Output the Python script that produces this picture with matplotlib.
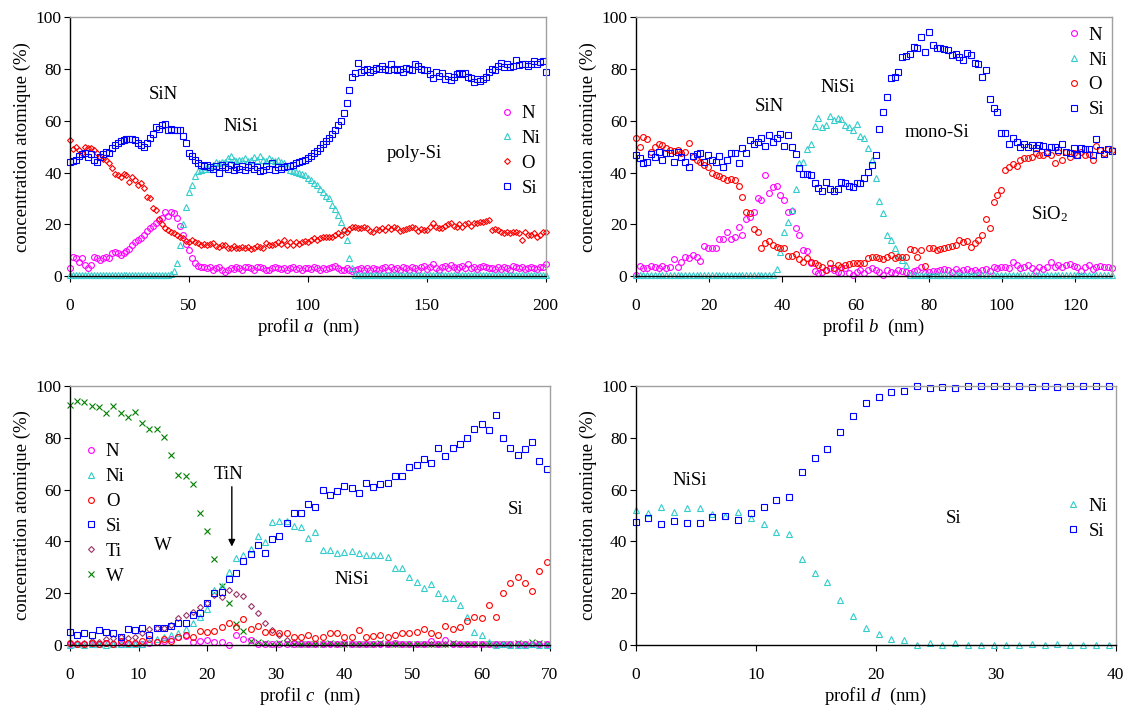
import numpy as np
import matplotlib
matplotlib.use('Agg')
import matplotlib.pyplot as plt
from matplotlib.lines import Line2D

plt.rcParams['font.family'] = ['Liberation Serif', 'DejaVu Serif']
plt.rcParams['mathtext.fontset'] = 'custom'
plt.rcParams['mathtext.rm'] = 'Liberation Serif'
plt.rcParams['mathtext.it'] = 'Liberation Serif:italic'

# ---------------- Panel a : profil a (step 1.25 nm) ----------------
step_a = 1.25
N_a = [3, 7.5, 6.8, 5.5, 6.8, 4.2, 3, 4.2,
       7.5, 6.8, 6.2, 6.8, 7.5, 7, 8.8, 9.4,
       8.8, 8.1, 8.8, 9.5, 10.5, 12, 13.3, 13.9,
       14.5, 16, 17.5, 18.5, 19.5, 20.5, 21.6, 22.3,
       24.8, 23, 24.8, 24.5, 22.5, 19.5, 16, 12.5,
       10, 6.8, 5, 3.8, 3.6, 3.6, 3, 3.3,
       2.3, 3, 3.6, 2.5, 1.7, 2.5, 3, 2.8,
       3.6, 3, 2.5, 3.6, 3.3, 3, 2.5, 3.6,
       3.6, 3, 2.5, 2.3, 3, 3.3, 3, 2.8,
       3, 2.5, 3, 3.3, 2.8, 3, 2.5, 3,
       3, 2.8, 3.3, 3, 2.5, 3, 2.8, 3,
       3.5, 3.8, 3, 2.5, 2.3, 3, 2.2, 2,
       2.5, 2.8, 3, 2.5, 3, 2.3, 3, 2.6,
       2.5, 3, 3.3, 2.5, 3.5, 2.8, 3, 2.5,
       3.5, 3, 2.3, 3.6, 3, 2.5, 3.3, 3.8,
       2.8, 3.3, 4.5, 3, 2.5, 3.5, 3.8, 3,
       4.2, 3.3, 2.8, 3.5, 3.8, 3, 4.6, 3.2,
       3.5, 2.8, 3.3, 4, 3.5, 3, 3.2, 2.8,
       3.3, 2.8, 3.5, 3, 2.5, 3.8, 3.3, 3,
       3.5, 2.8, 3.2, 3.5, 3, 2.8, 3.6, 3.3,
       4.5]
Ni_a = [0.3, 0.2, 0.4, 0.3, 0.2, 0.3, 0.4, 0.2,
        0.3, 0.2, 0.3, 0.4, 0.2, 0.3, 0.2, 0.3,
        0.4, 0.3, 0.2, 0.3, 0.3, 0.2, 0.4, 0.3,
        0.2, 0.3, 0.3, 0.4, 0.2, 0.3, 0.4, 0.3,
        0.4, 0.5, 0.8, 1.8, 5, 12, 20, 26.5,
        32.5, 35, 38.5, 40.5, 41, 41.5, 42, 41.5,
        43, 44, 43.5, 44, 44, 45.5, 46.5, 45,
        44.5, 45, 44.8, 45.5, 44.5, 45, 46, 45,
        46.5, 45, 44.5, 45.5, 44.8, 44.5, 44.8, 44,
        43.5, 42.5, 41, 40.5, 40.3, 39.8, 39.6, 39,
        38, 37, 36, 35, 33.5, 32.5, 31, 30,
        27.4, 26, 23.5, 21, 18, 14, 7, 3,
        0.4, 0.3, 0.5, 0.3, 0.4, 0.3, 0.5, 0.4,
        0.3, 0.4, 0.3, 0.5, 0.3, 0.4, 0.3, 0.4,
        0.5, 0.3, 0.4, 0.3, 0.4, 0.5, 0.3, 0.4,
        0.3, 0.4, 0.5, 0.3, 0.4, 0.3, 0.4, 0.3,
        0.5, 0.4, 0.3, 0.4, 0.3, 0.5, 0.4, 0.3,
        0.4, 0.3, 0.5, 0.4, 0.3, 0.4, 0.3, 0.5,
        0.3, 0.4, 0.3, 0.5, 0.4, 0.3, 0.4, 0.3,
        0.4, 0.5, 0.3, 0.4, 0.3, 0.4, 0.5, 0.3,
        0.4]
O_a = [52.5, 49, 49.9, 48.6, 47.4, 49.9, 49.3, 49.3,
       48.6, 47.4, 46, 45.4, 44.8, 43.5, 41.6, 39.6,
       39, 38.4, 39.6, 39, 36.4, 38.4, 37, 35.1,
       35.8, 34, 30.6, 30, 26.1, 25.5, 22, 20,
       18.4, 17.8, 17.1, 16.5, 15.8, 15, 14.5, 13.5,
       13.3, 13.9, 13, 12.6, 12, 12.2, 12, 12.3,
       12.6, 11.5, 11.3, 12, 12, 11, 10.7, 11.5,
       10.7, 11, 11.3, 11, 11.3, 10.5, 10.7, 11.5,
       11.3, 11, 12.6, 12, 12, 12.5, 13.3, 12.5,
       13.9, 12, 13, 12, 13, 12.5, 13.3, 13.5,
       13.3, 14, 14.5, 14, 14.5, 15, 15.2, 15,
       15.2, 15.8, 16.5, 16, 17.8, 17, 18, 19,
       19, 18.5, 18.4, 19, 18.4, 17.5, 17.1, 18,
       17.8, 18.5, 17.8, 19, 18, 19, 18.5, 17.5,
       17.8, 18, 18.4, 19, 18.4, 17.5, 18, 17.8,
       17.8, 19, 20.3, 19, 18.4, 18.4, 19.5, 20,
       20.3, 19.5, 19, 20, 19, 20, 20.3, 19.5,
       20.3, 20.5, 21, 21, 21.3, 21.6, 17.8, 18,
       17.8, 17, 16.5, 17, 16.5, 17, 17.1, 16.5,
       13.9, 17.1, 16, 15.8, 16.5, 15.2, 16, 17.1,
       17]
Si_a = [44, 44.5, 45, 46.5, 47, 47.5, 46, 47,
        45, 44, 46, 47, 48, 47.5, 49.5, 50.5,
        51.5, 52, 52.5, 53, 53, 52.8, 52.5, 51.5,
        50.5, 50, 51.5, 53.5, 55, 57.5, 57, 58.3,
        58.7, 56.5, 57, 56.4, 56.4, 56.5, 54, 51.5,
        47.5, 46.5, 45, 43.5, 43, 42.5, 43, 42,
        41.5, 42.5, 39.8, 43, 42, 41.5, 43, 41,
        42, 41.5, 42.5, 41, 42, 43, 41.5, 42,
        40.5, 41, 42.5, 41.5, 43.5, 41, 42, 41.5,
        42, 42.5, 42.5, 43, 43.5, 44, 44.5, 45,
        45.5, 46.5, 47.5, 48.5, 49.5, 51, 52, 53.5,
        55, 56.5, 58.5, 60, 63, 67, 72, 77,
        78.5, 82.5, 79, 79.5, 80, 79, 79.5, 80.5,
        80, 81, 80, 79.5, 82, 80, 79.5, 80,
        79, 80.5, 80, 79.5, 82, 81, 80, 79.5,
        79.5, 78, 76.5, 79, 77.5, 78.5, 76, 77.5,
        75.7, 77, 78, 78.5, 78, 78.5, 77, 76.5,
        75, 76, 75.5, 76.3, 77, 79, 80, 79.5,
        81, 82.5, 80.8, 82, 80.8, 81, 83.4, 81.5,
        82, 81.9, 81, 82, 83, 82, 82.8, 83,
        79]

# ---------------- Panel b : profil b (step 1.04 nm) ----------------
step_b = 1.04
N_b = [0.5, 3.9, 3, 3.2, 3.9, 3.6, 3.2, 3.9, 3, 3.6,
       6.4, 3.6, 5.5, 7.5, 6.8, 8.1, 7.5, 5.9, 11.6, 10.7,
       10.7, 10.7, 14.2, 14.2, 17.1, 14.2, 14.9, 19, 15.8, 21.9,
       22.9, 24.8, 30, 29.3, 39, 32.2, 34.5, 34.7, 31.3, 29.3,
       24.8, 25.2, 18.4, 15.8, 10, 9.8, 5, 2, 1, 1.7,
       2.5, 3, 2.3, 1.5, 1, 3, 1.3, 0.5, 1.7, 2.3,
       1.3, 2.5, 3, 2.3, 1.7, 0.3, 2.3, 1.5, 1.3, 2.3,
       2, 1.5, 1, 2, 2.5, 3.6, 1.3, 1.7, 2, 2,
       2.3, 2.6, 2.2, 1.7, 2.6, 1.7, 2.2, 2.6, 2, 2.3,
       1.7, 2.2, 2.6, 2, 3.6, 3, 3.6, 3.3, 3, 5.5,
       4.2, 3, 3.6, 4.2, 3, 2, 3.6, 2.6, 3.6, 5.5,
       3.6, 4.2, 3.6, 4.2, 4.6, 3.8, 3.6, 2, 3.6, 4.2,
       2.6, 3.5, 3.9, 3.6, 3.3, 3.2]
Ni_b = [0.2, 0.3, 0.2, 0.3, 0.2, 0.2, 0.3, 0.2, 0.3, 0.2,
        0.3, 0.2, 0.2, 0.3, 0.2, 0.3, 0.2, 0.2, 0.3, 0.2,
        0.3, 0.2, 0.3, 0.2, 0.2, 0.3, 0.2, 0.3, 0.2, 0.2,
        0.3, 0.2, 0.3, 0.2, 0.2, 0.3, 0.2,
        2.6, 9.2, 17, 21, 25.5, 33.8, 43.5, 44.1, 48.9, 51.2,
        57.9, 60.9, 57.7, 58.3, 61.8, 60.2, 60.9, 60.5, 58.3, 57.7,
        56.5, 58.7, 54.2, 53.5, 49.5, 45, 38, 29, 24.5, 16,
        13.9, 10.8, 8, 6, 4.2,
        0.3, 0.2, 0.3, 0.2, 0.3, 0.2, 0.2, 0.3, 0.2, 0.3,
        0.2, 0.3, 0.2, 0.2, 0.3, 0.2, 0.3, 0.2, 0.3, 0.2,
        0.2, 0.3, 0.2, 0.3, 0.2, 0.3, 0.2, 0.2, 0.3, 0.2,
        0.3, 0.2, 0.3, 0.2, 0.2, 0.3, 0.2, 0.3, 0.2, 0.3,
        0.2, 0.2, 0.3, 0.2, 0.3, 0.2, 0.3, 0.2, 0.2, 0.3,
        0.2, 0.3, 0.2, 0.3]
O_b = [53.2, 49.9, 53.8, 52.8, 48, 49.9, 51, 50.6, 49.3, 48.6,
       48.4, 48.6, 47.4, 48, 51.5, 46, 44.8, 44.1, 43, 42.2,
       40, 39, 38.5, 37.7, 37.3, 37.5, 37, 34.7, 30.4, 24.8,
       24.5, 18, 17.1, 10.7, 12.6, 13.6, 12, 11.3, 10.7, 10.7,
       7.7, 7.7, 8.5, 6.4, 5.5, 6.8, 5.5, 4.9, 4.2, 3.6,
       2.3, 4.9, 3, 4.2, 3.6, 4.2, 4.5, 4.9, 4.9, 5,
       5.1, 6.8, 7.5, 7.5, 6.8, 6.4, 7.5, 8.1, 6.8, 7.5,
       7.2, 7.2, 10.3, 10, 7.5, 10, 3.9, 10.7, 10.7, 10,
       10.3, 10.7, 11.3, 11.5, 12, 13.9, 13.3, 13.6, 11.1, 12.6,
       13.9, 15.8, 21.9, 18.4, 28.7, 31.3, 33.2, 40.9, 42.2, 43.2,
       42.5, 45, 45.8, 45.8, 46, 47.4, 46.7, 46.7, 47.4, 46.7,
       43.8, 48, 45, 48, 46, 47.4, 46.7, 48, 46.7, 47,
       45, 50.2, 48.6, 47.5, 48.9, 48.6]
Si_b = [46.7, 45.8, 43.5, 44.1, 47.1, 46, 48, 44.8, 47.4, 47.6,
        44.1, 48, 46, 44.1, 42, 46.3, 47.1, 47.4, 44.1, 46.7,
        44.8, 44.1, 46.3, 42.2, 45, 47.6, 47.4, 43.5, 49.3, 47.4,
        52.5, 51, 51.9, 53.5, 50.2, 54.4, 51.9, 53.2, 54.8, 50.4,
        54.4, 49.7, 47.1, 41.6, 39.4, 39.4, 39, 35.8, 34.2, 32.9,
        36.4, 33.8, 32.9, 33.8, 36.4, 35.8, 34.7,
        34.5, 35.8, 35.8, 37.7, 40.3, 42.9, 46.7, 57, 63.4, 69,
        76.7, 77, 78.9, 84.7, 84.9, 85.7, 88.5, 88.3, 92.4, 86.4,
        94.3, 89.2, 88.3, 88.3, 87.9, 87.3, 85.3, 86, 84.7, 83.4,
        86.2, 85.3, 82.4, 81.9, 77, 79.5, 68.6, 65.1, 63.4, 55.3,
        55.3, 51.2, 53.5, 51.9, 49.9, 51, 49.9, 50.6, 49.3, 50.6,
        50.2, 48, 49.9, 49.9, 48.6, 51, 48, 47.6, 49.3, 46.7,
        49.3, 48.9, 48.9, 46.7, 52.8, 48.6, 47.1, 48.9, 48.4]

# ---------------- Panel c : profil c (step 1.053 nm) ----------------
step_c = 1.053
N_c = [0.4, 0.2, 0.5, 0.3, 0.2, 0.6, 0.3, 0.2, 0.5, 0.3,
       0.5, 0.8, 1, 1.5, 2.5, 3, 3.5, 1.3, 1.5, 2,
       1.3, 1, 0, 3.9, 2.2, 2, 0.4, 0.3, 0.5, 0.2,
       0.3, 0.5, 0.2, 0.4, 0.3, 0.5, 0.2, 0.3, 0.6, 0.4,
       0.3, 0.2, 0.5, 0.4, 0.3, 0.6, 0.2, 0.5, 0.3, 0.4,
       1.7, 0.3, 1.9, 0.4, 0.2, 0.5, 0.3, 0.2, 0.4, 0.3,
       0.2, 0.5, 0.3, 0.2, 0.4, 0.3, 0.2]
Ni_c = [0, 0.2, 0, 0.3, 0.2, 0, 0.3, 0.5, 0.2, 0.3,
        0.5, 1, 2.2, 3, 4, 4.5, 6, 8.6, 10.9, 13.8,
        21.2, 22.8, 28.3, 33.5, 34.7, 36.9, 42.1, 39.9, 47.6, 48,
        48, 45.9, 45.4, 41.2, 43.8, 36.7, 36.7, 35.6, 36, 36.3,
        35.6, 34.7, 34.7, 34.7, 33.8, 29.6, 29.6, 26.1, 24.5, 21.9,
        23.6, 19.9, 18, 18, 15.4, 10.9, 5.1, 3.9, 1.3, 0,
        0.2, 0, 0.1, 0, 0.2, 0, 0]
O_c = [0.6, 0.4, 0.4, 0.9, 0.5, 0.6, 0.4, 1.7, 0.9, 0.6,
       1.7, 2.2, 1.3, 2.2, 1.7, 3.2, 3.9, 3.2, 5.5, 5.1,
       5.5, 7.1, 8.4, 6.8, 9.9, 6, 7.3, 5.1, 5.1, 4.5,
       4.5, 3.2, 3, 3.9, 2.6, 3.2, 4.5, 4.8, 3, 3.2,
       5.8, 3.2, 3.5, 3.9, 3.2, 3.9, 4.5, 4.8, 5.1, 6,
       4.8, 3.9, 7.3, 6, 7.1, 9.4, 10.9, 10.3, 15.4, 10.9,
       20.2, 24.1, 26.4, 23.8, 21, 28.7, 32.2]
Si_c = [5.1, 3.9, 4.8, 3.9, 5.8, 5.1, 4.8, 3.2, 6, 5.8,
        6.4, 3.9, 6.4, 6.4, 7.3, 8.4, 8.4, 11.6, 12.2, 16.1,
        20.2, 20.6, 25.4, 27.9, 32.6, 35.1, 38.6, 35.6, 40.8, 42.2,
        47, 50.8, 50.8, 54.3, 53.2, 59.8, 57.9, 59.6, 61.4, 60.5,
        58.8, 62.4, 61.1, 62.2, 62.7, 65.3, 65.3, 68.9, 69.5, 71.7,
        70.4, 75.9, 73, 75.9, 77.6, 79.8, 83.3, 85.2, 83, 88.8,
        79.8, 75.9, 73.4, 75.5, 78.5, 71.2, 67.8]
Ti_c = [0.6, 0.9, 0.9, 1.7, 1.3, 2.2, 2.6, 3.2, 2.6, 3.2,
        4.5, 6, 6.4, 6.4, 7.7, 10.3, 11.6, 12.9, 14.8, 16.1,
        19.3, 18.7, 21.2, 19.7, 18.9, 15.1, 12.5, 8.6, 5.8, 3.9,
        1.9, 1.3, 0.8, 0.5, 0.4, 0.3, 0.2, 0.3, 0.2, 0.3,
        0.2, 0.3, 0.2, 0.3, 0.2, 0.2, 0.3, 0.2, 0.3, 0.2,
        0.3, 0.2, 0.2, 0.3, 0.2, 0.3, 0.2, 0.3, 0.2, 0.2,
        0.3, 0.2, 0.3, 0.2, 0.3, 0.2, 0.2]
W_c = [92.7, 94.3, 93.7, 92.3, 92, 89.7, 92.3, 89.7, 88.2, 90.1,
       85.6, 83.3, 83.3, 80.4, 73.4, 65.6, 65.3, 62.2, 51.1, 44.1,
       33.2, 22.8, 16.3, 8.1, 5.5, 1.7, 1.3, 0.6, 0.4, 0.9,
       0.6, 0.4, 0.3, 0.5, 0.2, 0.4, 0.6, 0.3, 0.5, 0.2,
       0.4, 0.3, 0.5, 0.6, 0.2, 0.4, 0.3, 0.5, 0.4, 0.3,
       0.5, 0.2, 0.4, 0.6, 0.3, 0.5, 0.2, 0.4, 0.3, 0.5,
       0.4, 0.3, 0.6, 0.5, 1.2, 0.8, 0.5]

# ---------------- Panel d : profil d (step 1.065 nm) ----------------
step_d = 1.065
Ni_d = [52.1, 50.8, 53.2, 51.5, 52.8, 52.8, 50.6, 49.8, 51.5, 48.9,
        46.7, 43.8, 42.9, 33.1, 27.7, 24.3, 17.4, 11.2, 6.4, 4.2,
        2.2, 1.9, 0, 0.6, 0, 0.9, 0, 0, 0, 0,
        0, 0.4, 0, 0.4, 0, 0, 0, 0]
Si_d = [47.4, 48.9, 46.7, 48, 47.2, 47.2, 49.5, 49.8, 48.3, 50.8,
        53.2, 56, 57, 66.7, 72.1, 75.5, 82.2, 88.4, 93.6, 95.6,
        97.6, 98.1, 100, 99.1, 99.7, 99.1, 100, 100, 100, 100,
        100, 99.5, 100, 99.7, 100, 100, 100, 100]

# ---------------- styles ----------------
C_N, C_NI, C_O, C_SI, C_TI, C_W = '#FF00FF', '#33CCCC', '#FF0000', '#0000FF', '#993366', '#008000'
STY = {
    'N':  dict(marker='o', color=C_N, ms=4.2),
    'Ni': dict(marker='^', color=C_NI, ms=4.2),
    'Oa': dict(marker='D', color=C_O, ms=3.0),
    'O':  dict(marker='o', color=C_O, ms=4.2),
    'Si': dict(marker='s', color=C_SI, ms=4.2),
    'Ti': dict(marker='D', color=C_TI, ms=3.0),
    'W':  dict(marker='x', color=C_W, ms=4.6),
}
FS_TICK = 12.5
FS_LAB = 13.5
FS_TXT = 13.5
FS_LEG = 13.5


def series(ax, step, vals, key, ms_scale=1.0):
    s = STY[key]
    x = step * np.arange(len(vals))
    ax.plot(x, vals, ls='none', marker=s['marker'], mfc='none', mec=s['color'],
            ms=s['ms'] * ms_scale, mew=0.8, clip_on=False)


def handle(key, ms_scale=1.0):
    s = STY[key]
    return Line2D([], [], ls='none', marker=s['marker'], mfc='none', mec=s['color'],
                  ms=s['ms'] * ms_scale, mew=0.8)


def style_axes(ax, xlim, xticks, letter):
    ax.set_xlim(*xlim)
    ax.set_ylim(0, 100)
    ax.set_xticks(xticks)
    ax.set_yticks([0, 20, 40, 60, 80, 100])
    for side in ('top', 'right'):
        ax.spines[side].set_color('#a0a0a0')
        ax.spines[side].set_linewidth(1.0)
    for side in ('left', 'bottom'):
        ax.spines[side].set_color('black')
        ax.spines[side].set_linewidth(1.0)
    ax.tick_params(axis='y', direction='out', length=4, width=0.8, labelsize=FS_TICK, pad=2)
    ax.tick_params(axis='x', direction='out', length=4, width=0.8, labelsize=FS_TICK, pad=12)
    ax.set_ylabel('concentration atomique (%)', fontsize=FS_LAB, labelpad=3)
    ax.set_xlabel(r'profil $\mathit{' + letter + r'}$  (nm)', fontsize=FS_LAB, labelpad=2)


def legend(ax, keys, labels, x, y, ms_scale=1.0):
    hs = [handle(k, ms_scale) for k in keys]
    ax.legend(hs, labels, loc='center left', bbox_to_anchor=(x, y), frameon=False,
              fontsize=FS_LEG, handlelength=0.7, handletextpad=0.45, labelspacing=0.41,
              borderpad=0, borderaxespad=0)


fig = plt.figure(figsize=(11.3, 7.08), dpi=100)
W, H = 1130.0, 708.0
axa = fig.add_axes([70 / W, 1 - 276 / H, 475.7 / W, 258.7 / H])
axb = fig.add_axes([635.7 / W, 1 - 276 / H, 476 / W, 258.7 / H])
axc = fig.add_axes([70 / W, 1 - 645 / H, 480 / W, 259 / H])
axd = fig.add_axes([635.7 / W, 1 - 645 / H, 480 / W, 259 / H])

# panel a
series(axa, step_a, N_a, 'N')
series(axa, step_a, Ni_a, 'Ni')
series(axa, step_a, O_a, 'Oa')
series(axa, step_a, Si_a, 'Si')
style_axes(axa, (0, 200), [0, 50, 100, 150, 200], 'a')
legend(axa, ['N', 'Ni', 'Oa', 'Si'], ['N', 'Ni', 'O', 'Si'], 0.904, 0.484)
axa.text(39.2, 70.3, 'SiN', fontsize=FS_TXT, ha='center', va='center')
axa.text(71.8, 57.6, 'NiSi', fontsize=FS_TXT, ha='center', va='center')
axa.text(144.6, 47.4, 'poly-Si', fontsize=FS_TXT, ha='center', va='center')

# panel b
series(axb, step_b, N_b, 'N')
series(axb, step_b, Ni_b, 'Ni')
series(axb, step_b, O_b, 'O')
series(axb, step_b, Si_b, 'Si')
style_axes(axb, (0, 130), [0, 20, 40, 60, 80, 100, 120], 'b')
legend(axb, ['N', 'Ni', 'O', 'Si'], ['N', 'Ni', 'O', 'Si'], 0.906, 0.787)
axb.text(36.5, 65.6, 'SiN', fontsize=FS_TXT, ha='center', va='center')
axb.text(55.2, 72.8, 'NiSi', fontsize=FS_TXT, ha='center', va='center')
axb.text(82.3, 55.3, 'mono-Si', fontsize=FS_TXT, ha='center', va='center')
axb.text(112.9, 23.9, r'SiO$_2$', fontsize=FS_TXT, ha='center', va='center')

# panel c
series(axc, step_c, Ti_c, 'Ti')
series(axc, step_c, W_c, 'W')
series(axc, step_c, N_c, 'N')
series(axc, step_c, Ni_c, 'Ni')
series(axc, step_c, O_c, 'O')
series(axc, step_c, Si_c, 'Si')
style_axes(axc, (0, 70), [0, 10, 20, 30, 40, 50, 60, 70], 'c')
legend(axc, ['N', 'Ni', 'O', 'Si', 'Ti', 'W'], ['N', 'Ni', 'O', 'Si', 'Ti', 'W'], 0.0296, 0.506)
axc.text(23.1, 66, 'TiN', fontsize=FS_TXT, ha='center', va='center')
axc.annotate('', xy=(23.6, 38.0), xytext=(23.6, 61.1),
             arrowprops=dict(arrowstyle='-|>', color='black', lw=1.0, mutation_scale=10,
                             shrinkA=0, shrinkB=0))
axc.text(13.6, 38.6, 'W', fontsize=FS_TXT, ha='center', va='center')
axc.text(41.1, 25.1, 'NiSi', fontsize=FS_TXT, ha='center', va='center')
axc.text(65, 52.4, 'Si', fontsize=FS_TXT, ha='center', va='center')

# panel d
series(axd, step_d, Ni_d, 'Ni', 1.15)
series(axd, step_d, Si_d, 'Si', 1.15)
style_axes(axd, (0, 40), [0, 10, 20, 30, 40], 'd')
legend(axd, ['Ni', 'Si'], ['Ni', 'Si'], 0.898, 0.488, 1.15)
axd.text(4.5, 63.7, 'NiSi', fontsize=FS_TXT, ha='center', va='center')
axd.text(26.5, 49, 'Si', fontsize=FS_TXT, ha='center', va='center')

fig.savefig('out.png', dpi=100)
